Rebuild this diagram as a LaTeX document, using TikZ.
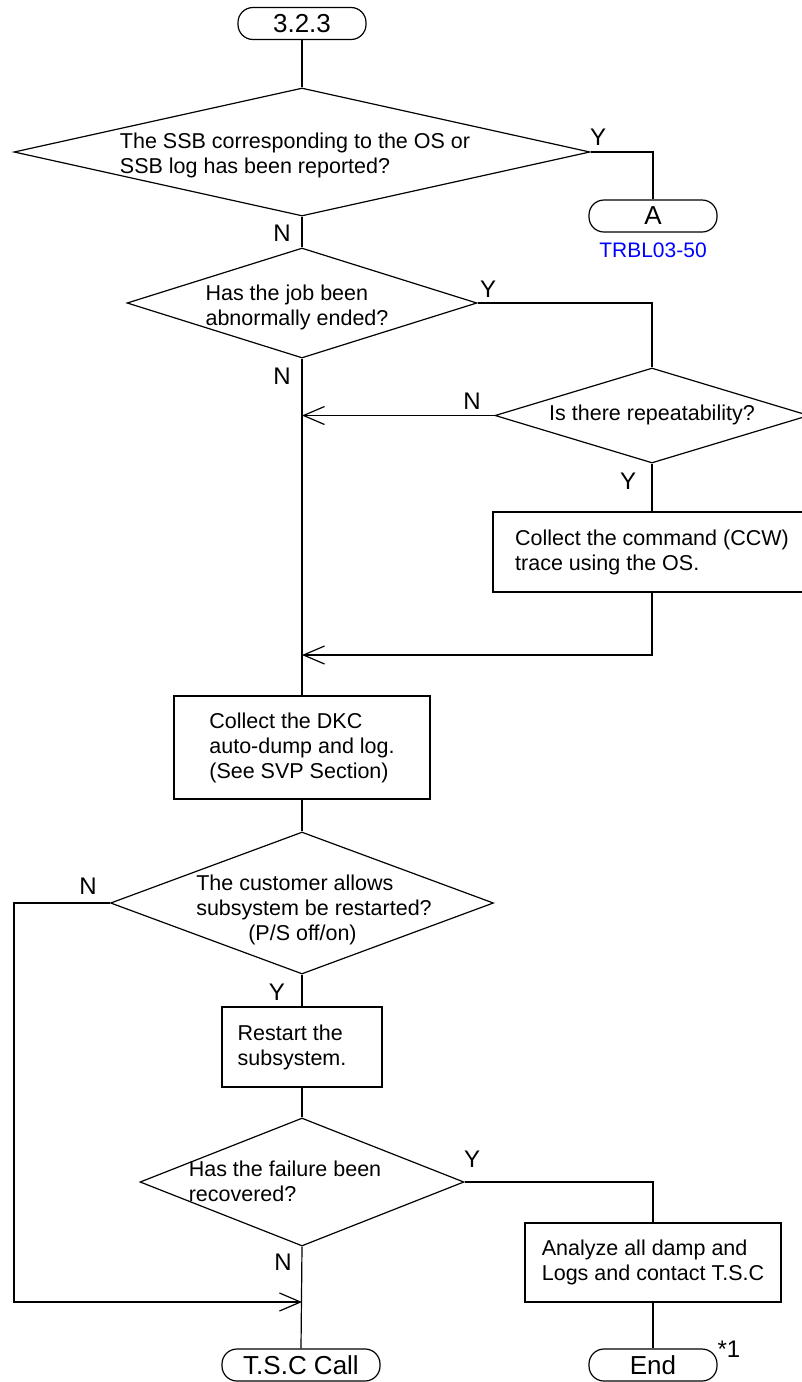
\documentclass[tikz,border=0pt]{standalone}
\usepackage{fontspec}
\setmainfont{Liberation Sans}
\usetikzlibrary{shapes.geometric,arrows.meta}
\begin{document}
\begin{tikzpicture}[x=1pt,y=-1pt,line width=1.2pt,
  every node/.style={font=\fontsize{21.5}{25}\selectfont},
  term/.style={draw,rectangle,rounded corners=15pt,minimum height=32pt,inner sep=0pt,font=\fontsize{26}{30}\selectfont},
  proc/.style={draw,rectangle,align=left,inner sep=0pt},
  dec/.style={draw,diamond,inner sep=0pt},
  txt/.style={align=left,inner sep=0pt},
  lbl/.style={inner sep=0pt,font=\fontsize{24}{28}\selectfont},
  arr/.style={-{Straight Barb[length=21pt,width=18pt]}}]
\useasboundingbox (0,0) rectangle (802,1382);
% nodes
\node[term,minimum width=128pt] (t1) at (302,23.5) {3.2.3};
\node[dec,minimum width=576pt,minimum height=128pt] (d1) at (302,152) {};
\node[txt] (d1t) at (295,155) {The SSB corresponding to the OS or\\SSB log has been reported?};
\node[lbl] (y1) at (598,137) {Y};
\node[term,minimum width=128pt] (a) at (653,216) {A};
\node[lbl,text=blue,font=\fontsize{21}{25}\selectfont] (trbl) at (653,250) {TRBL03-50};
\node[lbl] (n1) at (282,233) {N};
\node[dec,minimum width=350pt,minimum height=110pt] (d2) at (302,303) {};
\node[txt] (d2t) at (297,307) {Has the job been\\abnormally ended?};
\node[lbl] (y2) at (488,289) {Y};
\node[lbl] (n2) at (282,376) {N};
\node[dec,minimum width=314pt,minimum height=95pt] (d3) at (652,415.5) {};
\node[txt] (d3t) at (652,415) {Is there repeatability?};
\node[lbl] (n3) at (472,401) {N};
\node[lbl] (y3) at (628,481) {Y};
\node[proc,minimum width=318pt,minimum height=80pt] (b1) at (652,552) {Collect the command (CCW)\\trace using the OS.};
\coordinate (j1) at (d3.west -| d2.south);
\coordinate (j2) at (302,655);
\node[proc,minimum width=256pt,minimum height=103pt] (b2) at (302,747.5) {Collect the DKC\\auto-dump and log.\\(See SVP Section)};
\node[dec,minimum width=383pt,minimum height=142pt] (d4) at (302,903) {};
\node[txt] (d4t) at (314,910) {The customer allows\\subsystem be restarted?\\\hspace*{52pt}(P/S off/on)};
\node[lbl] (n4) at (88,886) {N};
\node[lbl] (y4) at (277,992) {Y};
\node[proc,minimum width=160pt,minimum height=80pt] (b3) at (302,1047) {Restart the\\subsystem.\hspace*{20pt}};
\node[dec,minimum width=324pt,minimum height=128pt] (d5) at (302,1182) {};
\node[txt] (d5t) at (285,1181) {Has the failure been\\recovered?};
\node[lbl] (y5) at (472,1159) {Y};
\node[lbl] (n5) at (283,1262) {N};
\node[proc,minimum width=256pt,minimum height=79pt] (b4) at (653,1262.5) {Analyze all damp and\\Logs and contact T.S.C};
\coordinate (j3) at (302,1302);
\node[term,minimum width=158pt] (tsc) at (301,1365) {T.S.C Call};
\node[term,minimum width=128pt] (end) at (653,1365) {End};
\node[lbl] (star) at (729,1349) {*1};
% connectors
\draw (t1.south) -- (d1.north);
\draw (d1.east) -| (a.north);
\draw (d1.south) -- (d2.north);
\draw (d2.east) -| (d3.north);
\draw (d2.south) -- (b2.north);
\draw[arr] (d3.west) -- (j1);
\draw (d3.south) -- (b1.north);
\draw[arr] (b1.south) |- (j2);
\draw (b2.south) -- (d4.north);
\draw (d4.south) -- (b3.north);
\draw[arr] (d4.west) -- ++(-96,0) |- (j3);
\draw (b3.south) -- (d5.north);
\draw (d5.south) -- (tsc.north);
\draw (d5.east) -| (b4.north);
\draw (b4.south) -- (end.north);
\end{tikzpicture}
\end{document}
